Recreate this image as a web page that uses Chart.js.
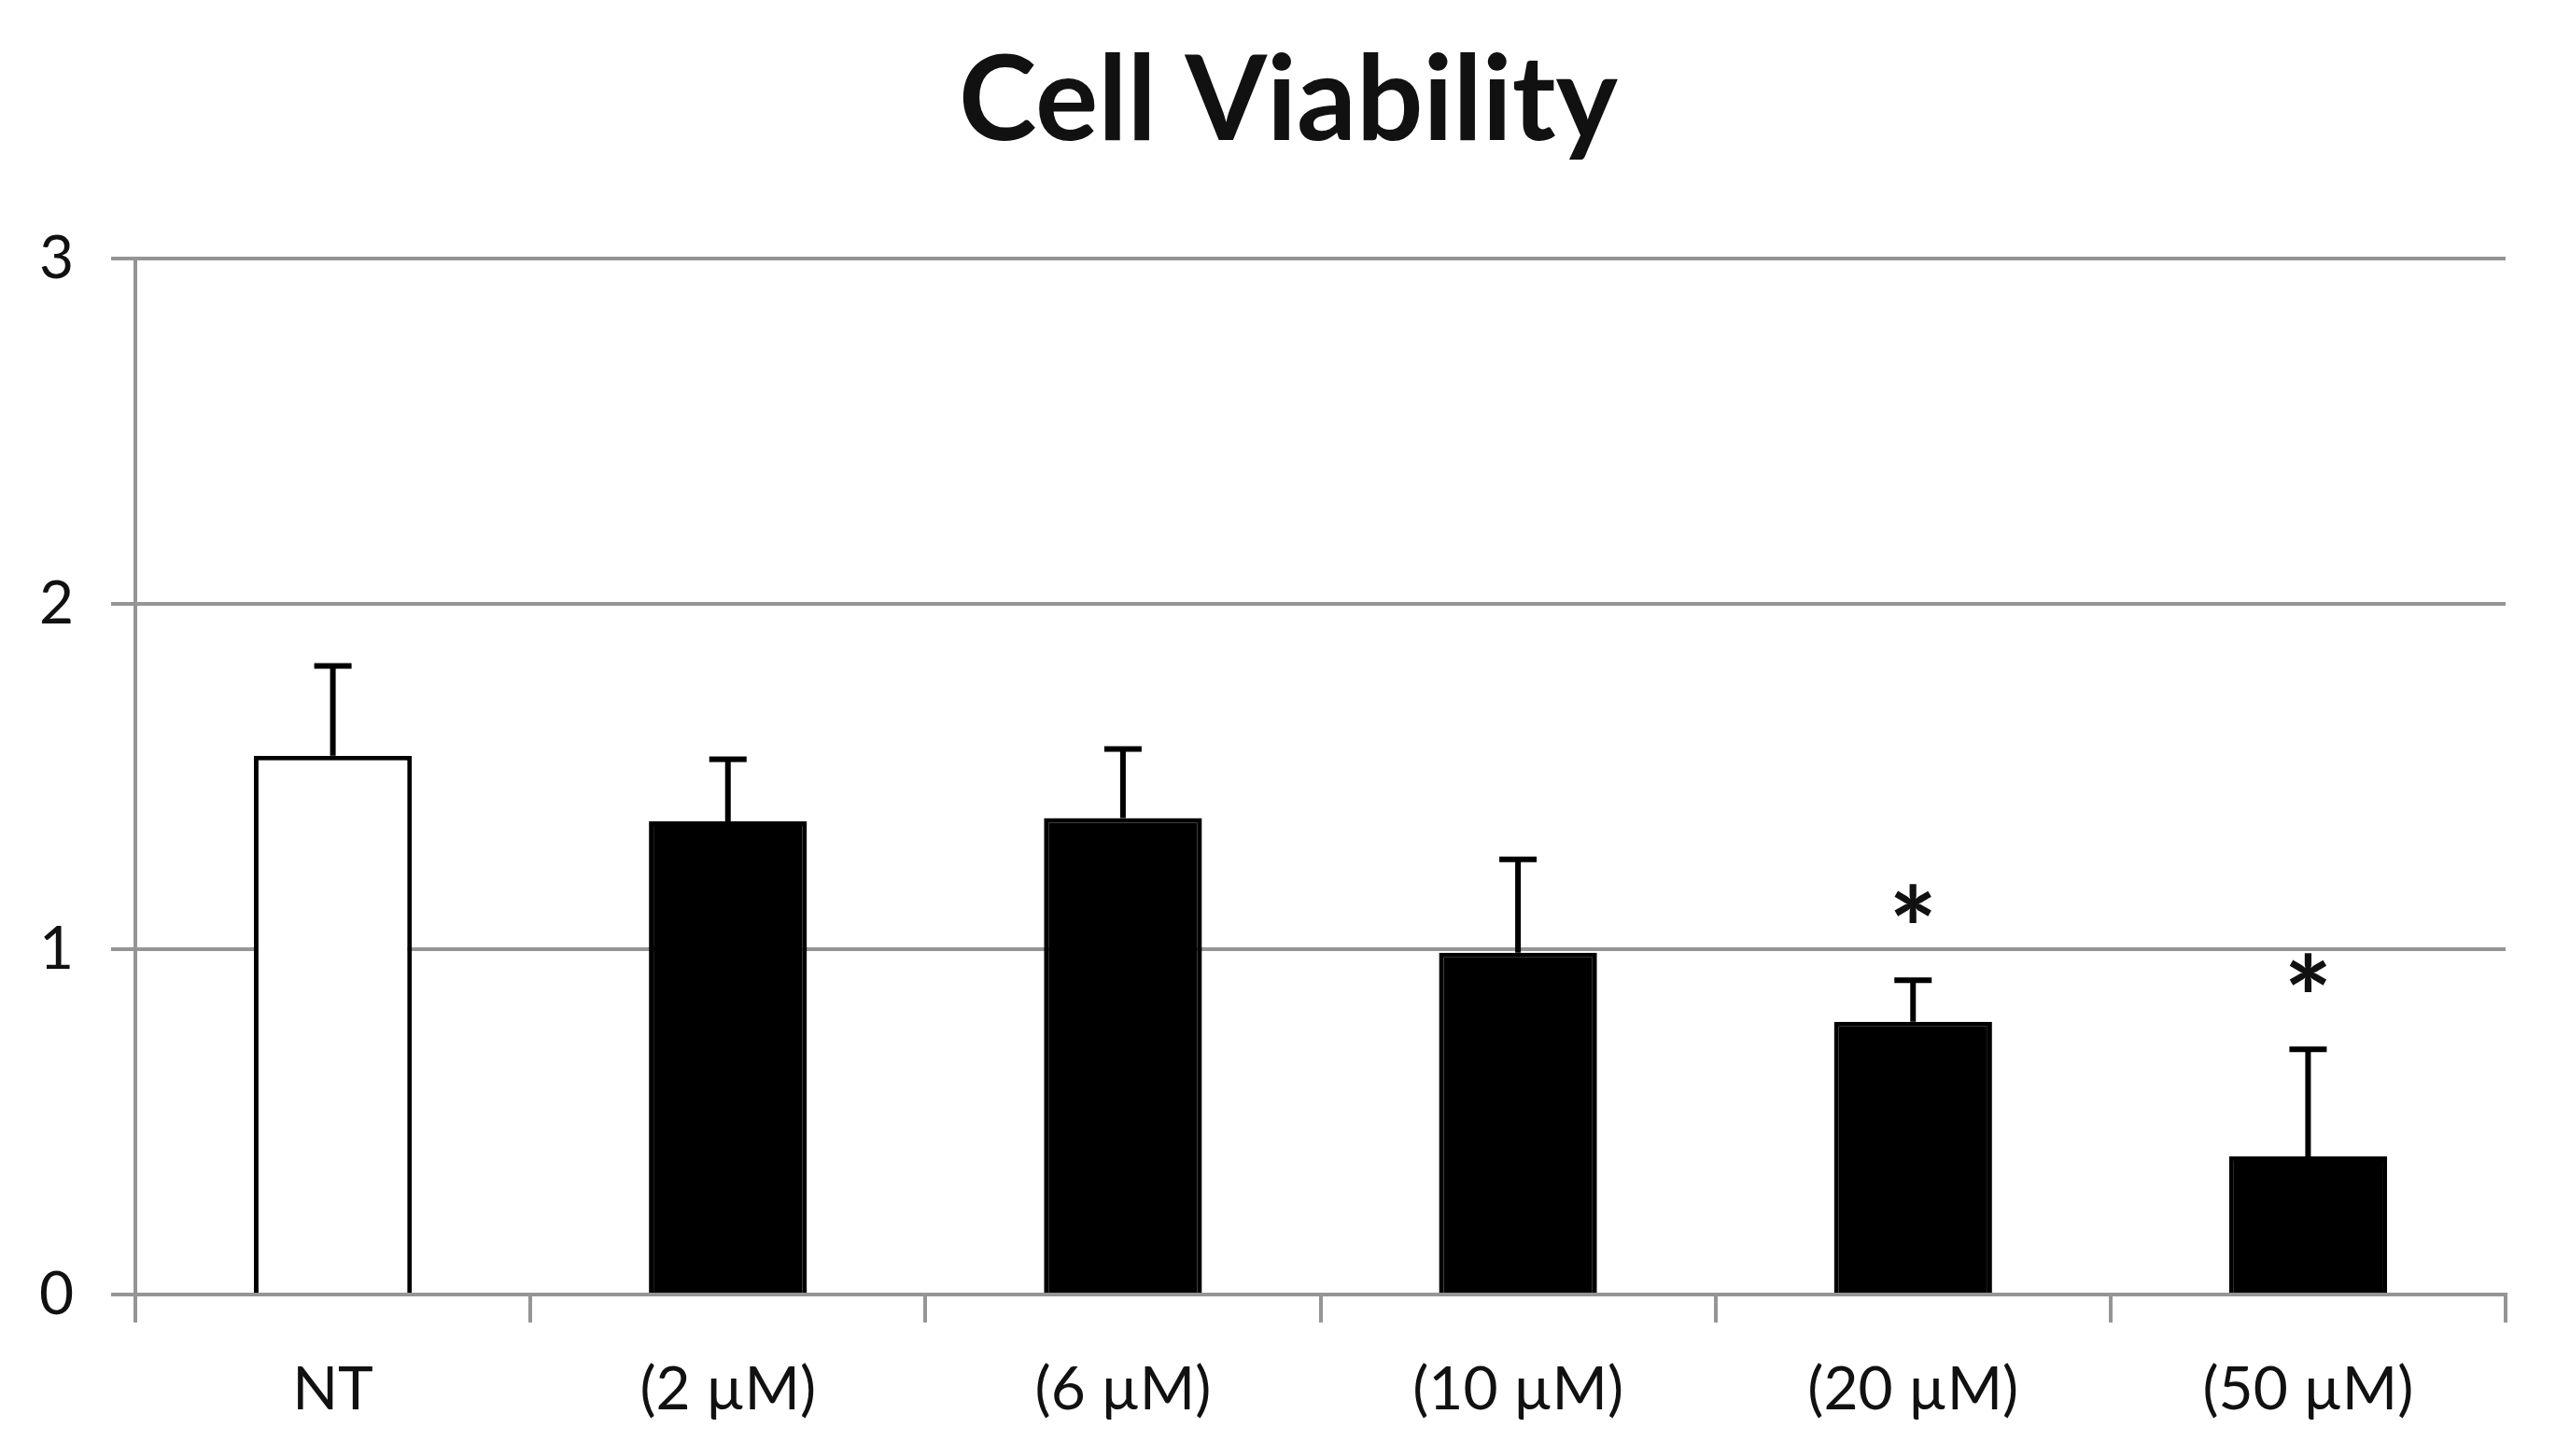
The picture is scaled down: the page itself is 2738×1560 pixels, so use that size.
<!DOCTYPE html>
<html>
<head>
<meta charset="utf-8">
<script src="https://cdn.jsdelivr.net/npm/chart.js@4/dist/chart.umd.min.js"></script>
<style>
  html, body { margin: 0; padding: 0; background: #fff; }
  canvas { display: block; }
</style>
</head>
<body>
<canvas id="viability" width="2738" height="1560"></canvas>
<script>
var labels = ["NT", "(2 \u00b5M)", "(6 \u00b5M)", "(10 \u00b5M)", "(20 \u00b5M)", "(50 \u00b5M)"];
var viability = [1.56, 1.37, 1.38, 0.99, 0.79, 0.40];
var errUp = [0.26, 0.18, 0.20, 0.27, 0.12, 0.31];
var marks = ["", "", "", "", "*", "*"];
var yTicks = [0, 1, 2, 3];

var gray = "#959595";
var ink = "#111111";
var font = "Lato, 'Open Sans', sans-serif";

// error bars, asterisks and title drawn on top of the bars
var extras = {
  id: "extras",
  afterDatasetsDraw: function (chart) {
    var c = chart.ctx;
    var y = chart.scales.y;
    var meta = chart.getDatasetMeta(0);
    c.save();
    c.strokeStyle = "#000";
    c.lineWidth = 6;
    meta.data.forEach(function (bar, i) {
      var x = bar.x;
      var top = y.getPixelForValue(viability[i]);
      var end = y.getPixelForValue(viability[i] + errUp[i]);
      c.beginPath();
      c.moveTo(x, top);
      c.lineTo(x, end);
      c.moveTo(x - 20, end);
      c.lineTo(x + 20, end);
      c.stroke();
      if (marks[i]) {
        c.fillStyle = ink;
        c.font = "bold 122px " + font;
        c.textAlign = "center";
        c.textBaseline = "alphabetic";
        var m = c.measureText(marks[i]);
        var cy = end - 82;
        c.fillText(marks[i], x, cy + (m.actualBoundingBoxAscent - m.actualBoundingBoxDescent) / 2);
      }
    });
    c.fillStyle = ink;
    c.font = "bold 126px " + font;
    c.textAlign = "center";
    c.textBaseline = "alphabetic";
    c.fillText("Cell Viability", 1380, 150);
    c.restore();
  }
};

new Chart(document.getElementById("viability"), {
  type: "bar",
  data: {
    labels: labels,
    datasets: [{
      data: viability,
      backgroundColor: ["#ffffff", "#000", "#000", "#000", "#000", "#000"],
      borderColor: "#000",
      borderWidth: 5,
      borderSkipped: "bottom",
      categoryPercentage: 1.0,
      barPercentage: 0.4
    }]
  },
  options: {
    responsive: false,
    devicePixelRatio: 1,
    animation: false,
    layout: { padding: { top: 277, right: 54, left: 0, bottom: 0 } },
    plugins: { legend: { display: false }, title: { display: false }, tooltip: { enabled: false } },
    scales: {
      x: {
        grid: { drawOnChartArea: false, drawTicks: true, tickLength: 30, color: gray, lineWidth: 4 },
        border: { color: gray, width: 4 },
        ticks: { color: ink, font: { family: font, size: 64 }, padding: 34, maxRotation: 0 },
        afterFit: function (s) { s.height = 173; }
      },
      y: {
        min: 0,
        max: 3,
        afterBuildTicks: function (s) { s.ticks = yTicks.map(function (v) { return { value: v }; }); },
        grid: { color: gray, lineWidth: 4, tickLength: 26 },
        border: { color: gray, width: 4 },
        ticks: { color: ink, font: { family: font, size: 64 }, padding: 40 },
        afterFit: function (s) { s.width = 145; }
      }
    }
  },
  plugins: [extras]
});
</script>
</body>
</html>
